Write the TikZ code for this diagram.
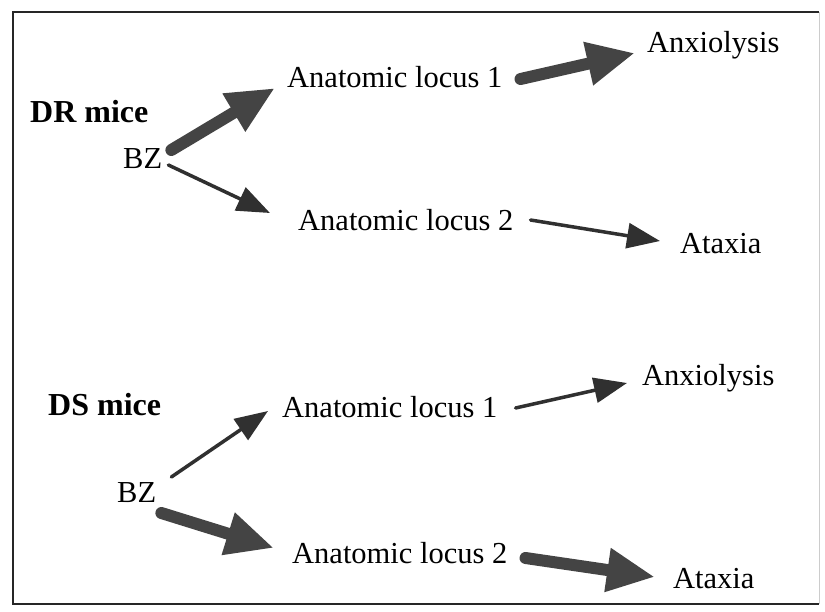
\documentclass[tikz,border=0pt]{standalone}
\usepackage{fontspec}
\setmainfont{Liberation Serif}
\usetikzlibrary{arrows.meta}
\definecolor{thickgray}{HTML}{444444}
\definecolor{thingray}{HTML}{303030}
\begin{document}
\begin{tikzpicture}[x=1pt,y=-1pt,
  lbl/.style={anchor=base west,inner sep=0pt,font=\fontsize{30.5}{36}\selectfont},
  grp/.style={anchor=base west,inner sep=0pt,font=\fontsize{32}{38}\selectfont\bfseries},
  bigarrow/.style={draw=thickgray,line width=12pt,line cap=round,
    -{Triangle[length=48pt,width=41pt,fill=thickgray]}},
  smallarrow/.style={draw=thingray,line width=3.5pt,line cap=round,
    -{Triangle[length=33pt,width=25pt,fill=thingray]}}]
\fill[white] (0,0) rectangle (825,611);
\useasboundingbox (0,0) rectangle (825,611);
% frame
\draw[line width=2.5pt,black!85,line join=miter] (819,12) -- (13,12) -- (13,604) -- (819,604);
\draw[line width=1pt,black!20] (819,12) -- (819,604);
% DR mice
\node[grp] (dr) at (30,122) {DR mice};
\node[lbl] (bz1) at (123,168) {BZ};
\node[lbl] (loc1a) at (287,87) {Anatomic locus 1};
\node[lbl] (anx1) at (647,52) {Anxiolysis};
\node[lbl] (loc2a) at (298,230) {Anatomic locus 2};
\node[lbl] (atx1) at (680,253) {Ataxia};
% DS mice
\node[grp] (ds) at (48,415) {DS mice};
\node[lbl] (bz2) at (117,502) {BZ};
\node[lbl] (loc1b) at (282,417) {Anatomic locus 1};
\node[lbl] (anx2) at (642,385) {Anxiolysis};
\node[lbl] (loc2b) at (292,563) {Anatomic locus 2};
\node[lbl] (atx2) at (673,588) {Ataxia};
% DR arrows
\draw[bigarrow] ([shift={(9,-18)}]bz1.base east) -- ([shift={(-12,1)}]loc1a.base west);
\draw[smallarrow] ([shift={(6,-3)}]bz1.base east) -- ([shift={(-28,-17)}]loc2a.base west);
\draw[bigarrow] ([shift={(18,-8)}]loc1a.base east) -- ([shift={(-12,1)}]anx1.base west);
\draw[smallarrow] ([shift={(17,-10)}]loc2a.base east) -- ([shift={(-20,-12)}]atx1.base west);
% DS arrows
\draw[smallarrow] ([shift={(15,-25)}]bz2.base east) -- ([shift={(-14,-6)}]loc1b.base west);
\draw[bigarrow] ([shift={(5,11)}]bz2.base east) -- ([shift={(-18,-15)}]loc2b.base west);
\draw[smallarrow] ([shift={(18,-9)}]loc1b.base east) -- ([shift={(-15,-2)}]anx2.base west);
\draw[bigarrow] ([shift={(18,-5)}]loc2b.base east) -- ([shift={(-18,-11)}]atx2.base west);
\end{tikzpicture}
\end{document}
